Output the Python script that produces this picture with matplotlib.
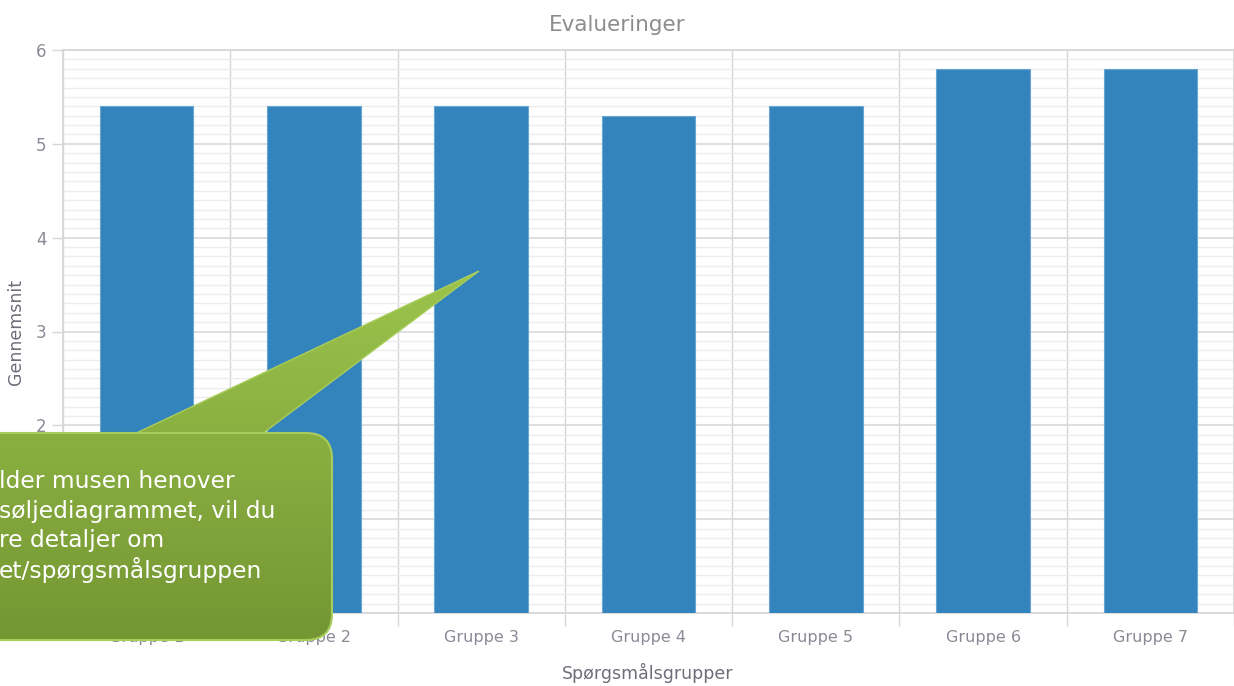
import numpy as np
import matplotlib.pyplot as plt
from matplotlib.patches import FancyBboxPatch, Polygon
from matplotlib.ticker import MultipleLocator

groups = ['Gruppe 1', 'Gruppe 2', 'Gruppe 3', 'Gruppe 4', 'Gruppe 5', 'Gruppe 6', 'Gruppe 7']
averages = [5.4, 5.4, 5.4, 5.3, 5.4, 5.8, 5.8]
tooltip_lines = ['lder musen henover', 'søljediagrammet, vil du', 're detaljer om', 'et/spørgsmålsgruppen']

W, H = 1234, 686
fig = plt.figure(figsize=(W / 100, H / 100), dpi=100)
ax = fig.add_axes([63 / W, 1 - 613 / H, 1 - 63 / W, (613 - 50) / H])

x = np.arange(len(groups))
ax.bar(x, averages, width=0.56, color='#3384bc', edgecolor='#6aa6d3', linewidth=0.8, zorder=3)

ax.set_xlim(-0.5, len(groups) - 0.5)
ax.set_ylim(0, 6)
ax.set_xticks(x)
ax.set_xticklabels(groups)
ax.set_xticks(np.arange(-0.5, len(groups)), minor=True)
ax.yaxis.set_major_locator(MultipleLocator(1))
ax.yaxis.set_minor_locator(MultipleLocator(0.1))

ax.grid(which='major', axis='y', color='#d9d9d9', linewidth=1.2, zorder=0)
ax.grid(which='minor', axis='y', color='#ececec', linewidth=1.0, zorder=0)
ax.grid(which='minor', axis='x', color='#d6d6d6', linewidth=1.0, zorder=0)

ax.tick_params(axis='x', which='major', length=0, pad=12, labelsize=11.5, labelcolor='#8a8a96')
ax.tick_params(axis='x', which='minor', length=9, color='#d6d6d6', width=1)
ax.tick_params(axis='y', which='major', length=8, color='#d6d6d6', width=1, pad=4,
               labelsize=12, labelcolor='#8a8a96')
ax.tick_params(axis='y', which='minor', length=0)

for side in ['top', 'right', 'bottom', 'left']:
    ax.spines[side].set_color('#d6d6d6')
    ax.spines[side].set_linewidth(1.2)

ax.set_title('Evalueringer', fontsize=15.5, color='#8c8c8c', x=(617 - 63) / 1171, y=1.0, pad=14)
ax.set_xlabel('Spørgsmålsgrupper', fontsize=12.5, color='#6e6e7a', va='center')
ax.xaxis.set_label_coords((648 - 63) / 1171, -(673 - 613) / 563)
ax.set_ylabel('Gennemsnit', fontsize=12.5, color='#6e6e7a', va='center')
ax.yaxis.set_label_coords(-(63 - 16) / 1171, (613 - 332) / 563)

# tooltip overlay in pixel coordinates
ov = fig.add_axes([0, 0, 1, 1])
ov.set_xlim(0, W)
ov.set_ylim(H, 0)
ov.axis('off')

grad = np.linspace(0, 1, 256).reshape(-1, 1)
top_c = np.array([0x9c, 0xc4, 0x4c]) / 255
bot_c = np.array([0x74, 0x96, 0x33]) / 255
img = (top_c + (bot_c - top_c) * grad[..., None]).reshape(256, 1, 3)

tri = Polygon([(128, 437), (258, 437), (479, 271)], closed=True,
              facecolor='none', edgecolor='#a9cd5c', linewidth=1, zorder=5)
box = FancyBboxPatch((-40, 433), 372, 207, boxstyle='round,pad=0,rounding_size=26',
                     facecolor='none', edgecolor='#a9cd5c', linewidth=1.5, zorder=6)
ov.add_patch(tri)
ov.add_patch(box)
for patch, z in [(tri, 4), (box, 5.5)]:
    im = ov.imshow(img, extent=(-40, 500, 640, 271), aspect='auto', zorder=z)
    im.set_clip_path(patch)

for i, line in enumerate(tooltip_lines):
    ov.text(-1, 482 + i * 29.3, line, fontsize=16.8, color='white', va='center', ha='left', zorder=7)

fig.savefig('out.png', dpi=100)
